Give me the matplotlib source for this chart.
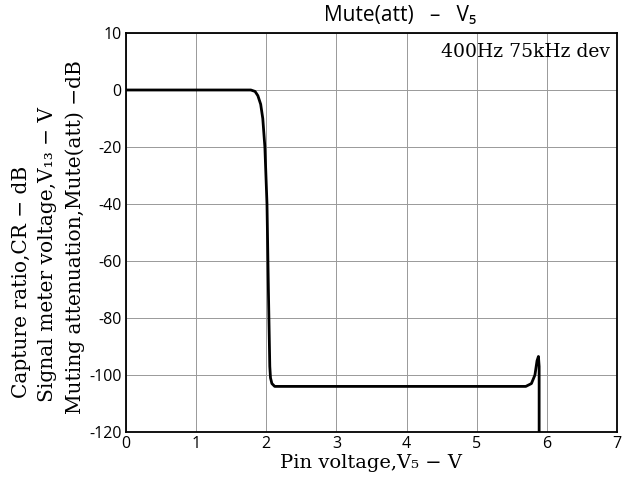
import numpy as np
import matplotlib
matplotlib.use('Agg')
import matplotlib.pyplot as plt

plt.rcParams['axes.unicode_minus'] = False

# Curve (pin voltage V5 in V, muting attenuation in dB)
volt = [0.0, 1.0, 1.78, 1.84, 1.88, 1.92, 1.95, 1.98, 2.01, 2.03, 2.05, 2.06,
        2.08, 2.12, 2.18, 3.0, 4.0, 5.0, 5.70, 5.78, 5.83, 5.86, 5.88, 5.89, 5.89]
mute = [0, 0, 0, -0.5, -2, -5, -10, -20, -40, -70, -97, -101,
        -103, -104, -104, -104, -104, -104, -104, -103, -100, -95, -93.5, -97, -120]

x_ticks = [0, 1, 2, 3, 4, 5, 6, 7]
y_ticks = [-120, -100, -80, -60, -40, -20, 0, 20]
y_tick_labels = ['-120', '-100', '-80', '-60', '-40', '-20', '0', '10']

fig = plt.figure(figsize=(6.25, 4.86), dpi=100)
ax = fig.add_axes([126 / 625, 1 - 432 / 486, 491 / 625, 399 / 486])

ax.plot(volt, mute, color='black', lw=2.0, solid_joinstyle='round')

ax.set_xlim(0, 7)
ax.set_ylim(-120, 20)
ax.set_xticks(x_ticks)
ax.set_yticks(y_ticks)
ax.set_yticklabels(y_tick_labels)
ax.tick_params(length=0, labelsize=11.5, pad=3)
for lab in ax.get_xticklabels() + ax.get_yticklabels():
    lab.set_family('Open Sans')

ax.grid(True, color='#999999', lw=0.7)
for s in ax.spines.values():
    s.set_linewidth(1.3)
    s.set_color('black')

ax.set_xlabel('Pin voltage,V₅ − V', family='DejaVu Serif', fontsize=14, labelpad=1)

ax.text(0.985, 0.975, '400Hz 75kHz dev', transform=ax.transAxes, ha='right', va='top',
        family='DejaVu Serif', fontsize=13.5)

fig.text(400 / 625, 1 - 16 / 486, 'Mute(att)   –   V₅', ha='center', va='center',
         family='Open Sans', fontsize=15)

# stacked y labels
fig.text(75 / 625, 1 - 414 / 486, 'Muting attenuation,Mute(att) −dB', rotation=90,
         ha='center', va='bottom', family='DejaVu Serif', fontsize=14.5)
fig.text(48 / 625, 1 - 402 / 486, 'Signal meter voltage,V₁₃ − V', rotation=90,
         ha='center', va='bottom', family='DejaVu Serif', fontsize=14.5)
fig.text(22 / 625, 1 - 398 / 486, 'Capture ratio,CR − dB', rotation=90,
         ha='center', va='bottom', family='DejaVu Serif', fontsize=14.5)

fig.savefig('out.png', dpi=100, facecolor='white')
